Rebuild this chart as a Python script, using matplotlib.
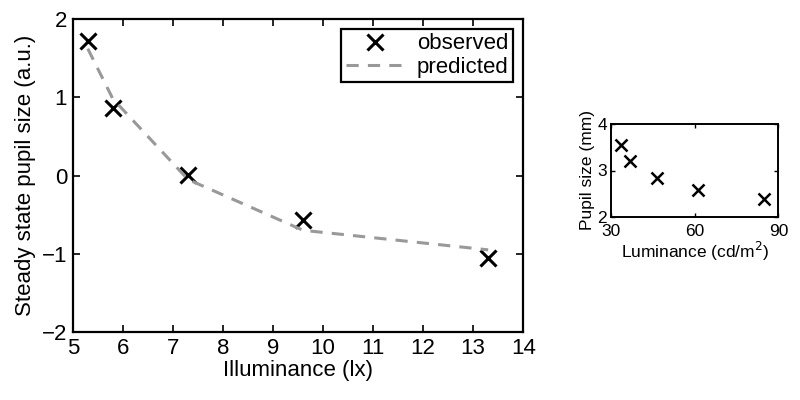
import matplotlib.pyplot as plt

plt.rcParams['font.family'] = ['Liberation Sans', 'DejaVu Sans']

# main panel
illum = [5.3, 5.8, 7.3, 9.6, 13.3]
observed = [1.72, 0.86, 0.01, -0.57, -1.05]
predicted = [1.62, 0.98, -0.05, -0.70, -0.95]

# inset panel
lum = [33.6, 36.9, 46.5, 61.0, 84.8]
pupil_mm = [3.55, 3.20, 2.84, 2.59, 2.39]

fig = plt.figure(figsize=(8, 4), dpi=100)

ax = fig.add_axes([0.091, 0.17, 0.563, 0.7825])
ax.plot(illum, observed, 'x', color='k', ms=11, mew=2.2, label='observed')
ax.plot(illum, predicted, '--', color='#999999', lw=2.2, dashes=(4, 3), label='predicted')
ax.set_xlim(5, 14)
ax.set_ylim(-2, 2)
ax.set_xticks(range(5, 15))
ax.set_yticks([-2, -1, 0, 1, 2])
ax.set_xlabel('Illuminance (lx)', fontsize=16, labelpad=1)
ax.set_ylabel('Steady state pupil size (a.u.)', fontsize=16, labelpad=4)
ax.tick_params(direction='in', top=True, right=True, labelsize=16, width=1.2, length=5, pad=4)
for s in ax.spines.values():
    s.set_linewidth(1.6)
leg = ax.legend(loc='upper right', fontsize=16, fancybox=False, framealpha=1,
                edgecolor='k', borderaxespad=0.45, handlelength=2.6, handletextpad=0.6,
                borderpad=0.2, labelspacing=0.1)
leg.get_frame().set_linewidth(1.6)

ins = fig.add_axes([0.764, 0.4575, 0.209, 0.2325])
ins.plot(lum, pupil_mm, 'x', color='k', ms=8, mew=1.8)
ins.set_xlim(30, 90)
ins.set_ylim(2, 4)
ins.set_xticks([30, 60, 90])
ins.set_yticks([2, 3, 4])
ins.set_xlabel('Luminance (cd/m$^2$)', fontsize=12.5, labelpad=1)
ins.set_ylabel('Pupil size (mm)', fontsize=12.5, labelpad=2)
ins.tick_params(direction='in', top=True, right=True, labelsize=12.5, width=1, length=3)
ins.tick_params(axis='x', pad=5)
ins.tick_params(axis='y', pad=3)
for s in ins.spines.values():
    s.set_linewidth(1.4)

fig.savefig('out.png')
